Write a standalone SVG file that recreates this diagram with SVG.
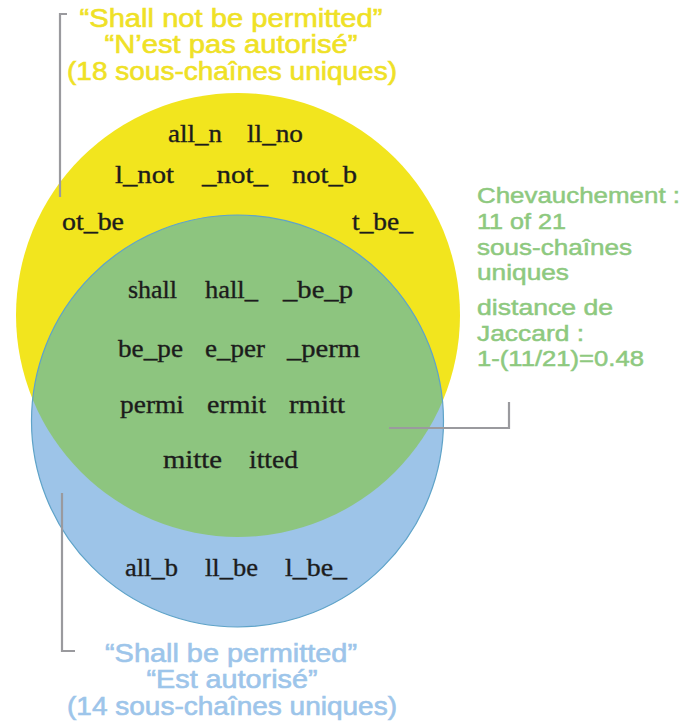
<svg xmlns="http://www.w3.org/2000/svg" width="683" height="721" viewBox="0 0 683 721">
<style>
.s{font-family:"Liberation Serif","Times New Roman",serif;font-size:26px;fill:#1c1c1c;stroke:#1c1c1c;stroke-width:0.35}
.t{font-family:"Liberation Sans",Arial,sans-serif;font-size:25px;text-anchor:middle;stroke-width:0.6}
.y{fill:#efe126;stroke:#efe126}
.b{fill:#9dc5ea;stroke:#9dc5ea}
.g{font-family:"Liberation Sans",Arial,sans-serif;font-size:22px;fill:#8ec97f;stroke:#8ec97f;stroke-width:0.5}
.c{fill:none;stroke:#9a9a9e;stroke-width:2.2}
</style>
<defs>
<clipPath id="yc"><circle cx="238" cy="315" r="222"/></clipPath>
</defs>
<rect width="683" height="721" fill="#ffffff"/>
<g id="set-shall-not">
<circle cx="238" cy="315" r="222" fill="#f2e51e"/>
</g>
<g id="set-shall">
<circle cx="237.5" cy="421" r="206" fill="#9dc4e8"/>
</g>
<g id="overlap">
<circle cx="237.5" cy="421" r="206" fill="#8dc57f" clip-path="url(#yc)"/>
<circle cx="237.5" cy="421" r="206" fill="none" stroke="#5fa3c8" stroke-width="1.2"/>
</g>
<g id="connectors">
<polyline class="c" points="67,14 60,14 60,197"/>
<polyline class="c" points="389,428 509,428 509,402"/>
<polyline class="c" points="62,493 62,651 75,651"/>
</g>
<g id="yellow-only-terms">
<text class="s" x="168" y="142" textLength="54" lengthAdjust="spacingAndGlyphs">all_n</text>
<text class="s" x="247" y="142" textLength="56" lengthAdjust="spacingAndGlyphs">ll_no</text>
<text class="s" x="115" y="183" textLength="59" lengthAdjust="spacingAndGlyphs">l_not</text>
<text class="s" x="202" y="183" textLength="66" lengthAdjust="spacingAndGlyphs">_not_</text>
<text class="s" x="292" y="183" textLength="65" lengthAdjust="spacingAndGlyphs">not_b</text>
<text class="s" x="62" y="230" textLength="62" lengthAdjust="spacingAndGlyphs">ot_be</text>
<text class="s" x="352" y="230" textLength="61" lengthAdjust="spacingAndGlyphs">t_be_</text>
</g>
<g id="overlap-terms">
<text class="s" x="128" y="298" textLength="49" lengthAdjust="spacingAndGlyphs">shall</text>
<text class="s" x="205" y="298" textLength="53" lengthAdjust="spacingAndGlyphs">hall_</text>
<text class="s" x="283" y="298" textLength="70" lengthAdjust="spacingAndGlyphs">_be_p</text>
<text class="s" x="118" y="357" textLength="65" lengthAdjust="spacingAndGlyphs">be_pe</text>
<text class="s" x="205" y="357" textLength="60" lengthAdjust="spacingAndGlyphs">e_per</text>
<text class="s" x="287" y="357" textLength="73" lengthAdjust="spacingAndGlyphs">_perm</text>
<text class="s" x="120" y="413" textLength="64" lengthAdjust="spacingAndGlyphs">permi</text>
<text class="s" x="207" y="413" textLength="59" lengthAdjust="spacingAndGlyphs">ermit</text>
<text class="s" x="289" y="413" textLength="56" lengthAdjust="spacingAndGlyphs">rmitt</text>
<text class="s" x="163" y="468" textLength="59" lengthAdjust="spacingAndGlyphs">mitte</text>
<text class="s" x="249" y="468" textLength="49" lengthAdjust="spacingAndGlyphs">itted</text>
</g>
<g id="blue-only-terms">
<text class="s" x="125" y="576" textLength="53" lengthAdjust="spacingAndGlyphs">all_b</text>
<text class="s" x="205" y="576" textLength="53" lengthAdjust="spacingAndGlyphs">ll_be</text>
<text class="s" x="285" y="576" textLength="62" lengthAdjust="spacingAndGlyphs">l_be_</text>
</g>
<g id="label-shall-not">
<text class="t y" x="231" y="27" textLength="303" lengthAdjust="spacingAndGlyphs">“Shall not be permitted”</text>
<text class="t y" x="231" y="53" textLength="253" lengthAdjust="spacingAndGlyphs">“N’est pas autorisé”</text>
<text class="t y" x="232" y="80" textLength="330" lengthAdjust="spacingAndGlyphs">(18 sous-chaînes uniques)</text>
</g>
<g id="label-shall">
<text class="t b" x="231" y="662" textLength="252" lengthAdjust="spacingAndGlyphs">“Shall be permitted”</text>
<text class="t b" x="232" y="688" textLength="171" lengthAdjust="spacingAndGlyphs">“Est autorisé”</text>
<text class="t b" x="232" y="715" textLength="330" lengthAdjust="spacingAndGlyphs">(14 sous-chaînes uniques)</text>
</g>
<g id="label-overlap">
<text class="g" x="477" y="203" textLength="203" lengthAdjust="spacingAndGlyphs">Chevauchement :</text>
<text class="g" x="477" y="229" textLength="89" lengthAdjust="spacingAndGlyphs">11 of 21</text>
<text class="g" x="477" y="255" textLength="155" lengthAdjust="spacingAndGlyphs">sous-chaînes</text>
<text class="g" x="477" y="280" textLength="92" lengthAdjust="spacingAndGlyphs">uniques</text>
<text class="g" x="477" y="315" textLength="136" lengthAdjust="spacingAndGlyphs">distance de</text>
<text class="g" x="477" y="341" textLength="107" lengthAdjust="spacingAndGlyphs">Jaccard :</text>
<text class="g" x="477" y="366" textLength="167" lengthAdjust="spacingAndGlyphs">1-(11/21)=0.48</text>
</g>
</svg>
